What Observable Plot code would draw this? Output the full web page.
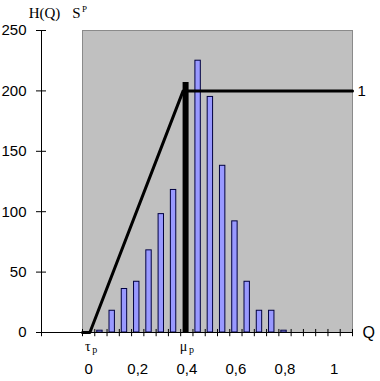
<!DOCTYPE html>
<html>
<head>
<meta charset="utf-8">
<script src="https://cdn.jsdelivr.net/npm/d3@7"></script>
<script src="https://cdn.jsdelivr.net/npm/@observablehq/plot@0.6"></script>
<style>
  html, body { margin: 0; padding: 0; background: #fff; }
  #chart svg { display: block; }
</style>
</head>
<body>
<div id="chart"></div>
<script>
// ---- data ----
const categories = [0, 0.05, 0.10, 0.15, 0.20, 0.25, 0.30, 0.35, 0.40, 0.45, 0.50,
                    0.55, 0.60, 0.65, 0.70, 0.75, 0.80, 0.85, 0.90, 0.95, 1.00, 1.05];
const counts =     [0, 1.5, 18, 36, 42, 68, 98, 118, 0, 225, 195,
                    138, 92, 42, 18, 18, 1.5, 0, 0, 0, 0, 0];
const yTicks = [0, 50, 100, 150, 200, 250];
const xTickValues = [0, 0.2, 0.4, 0.6, 0.8, 1];
const xTickLabels = ["0", "0,2", "0,4", "0,6", "0,8", "1"];
// S^P curve points (Q, value)
const sQ = [-0.025, 0.005, 0.385, 1.075];
const sV = [0, 0, 200, 200];
const tauP = 0.005;     // τp
const muP = 0.395;      // μp
const muHeight = 207;
const sLabel = "1";

// ---- derived tables ----
const bars = categories.map((c, i) => ({q: c, h: counts[i]})).filter(d => d.h > 0);
const sLine = sQ.map((q, i) => ({q, v: sV[i]}));
const xLab = xTickValues.map((v, i) => ({q: v, label: xTickLabels[i]}));
const step = 0.05;
const xMin = categories[0] - step / 2;
const xMax = categories[categories.length - 1] + step / 2;
const boundaries = d3.range(categories.length + 1).map(i => xMin + i * step);
const pxPerQ = 270 / (xMax - xMin);
const axisQ = xMin - 41 / pxPerQ;   // y-axis location left of the plot area
const tickHalf = 5 / pxPerQ;

const sans = "'Liberation Sans', Arial, sans-serif";
const serif = "'Liberation Serif', 'Times New Roman', serif";

const chart = Plot.plot({
  width: 380,
  height: 381,
  marginLeft: 82,
  marginRight: 28,
  marginTop: 30,
  marginBottom: 49,
  x: {domain: [xMin, xMax], axis: null},
  y: {domain: [0, 250], axis: null},
  style: {fontFamily: sans, background: "#fff", overflow: "visible"},
  marks: [
    Plot.frame({fill: "#c0c0c0", stroke: "#8a8a8a"}),
    Plot.rectY(bars, {
      x1: d => d.q - 0.015, x2: d => d.q + 0.007, y: "h",
      fill: "#9999ff", stroke: "#000040", strokeWidth: 1
    }),
    Plot.line(sLine, {x: "q", y: "v", stroke: "black", strokeWidth: 3}),
    Plot.ruleX([muP], {y1: 0, y2: muHeight, stroke: "black", strokeWidth: 6}),
    // x axis line and ticks
    Plot.ruleY([0], {x1: axisQ, x2: xMax, stroke: "black"}),
    Plot.ruleX(boundaries.concat([axisQ]), {y1: 2.5, y2: -3.5, stroke: "black"}),
    // y axis line and ticks
    Plot.ruleX([axisQ], {y1: 0, y2: 250, stroke: "black"}),
    Plot.ruleY(yTicks.filter(d => d > 0), {x1: axisQ - tickHalf, x2: axisQ + tickHalf, stroke: "black"}),
    Plot.ruleY([0], {x1: axisQ - tickHalf, x2: axisQ, stroke: "black"}),
    // y labels
    Plot.text(yTicks, {x: axisQ, y: d => d, text: d => String(d), dx: -15, textAnchor: "end",
      fontSize: 15, fill: "black"}),
    // x labels
    Plot.text(xLab, {x: "q", y: 0, text: "label", dy: 37, fontSize: 15, fill: "black"}),
    // right-side labels
    Plot.text([sLabel], {x: xMax, y: 200, text: d => d, dx: 5, textAnchor: "start", fontSize: 15, fill: "black"}),
    Plot.text(["Q"], {x: xMax, y: 0, text: d => d, dx: 10, textAnchor: "start", fontSize: 16, fill: "black"}),
    // tau_p, mu_p
    Plot.text(["τ"], {x: tauP, y: 0, text: d => d, dx: -2, dy: 14, fontSize: 14, fontFamily: serif, fill: "black"}),
    Plot.text(["p"], {x: tauP, y: 0, text: d => d, dx: 5, dy: 17, fontSize: 10, fontFamily: serif, fill: "black"}),
    Plot.text(["μ"], {x: muP, y: 0, text: d => d, dx: -2, dy: 14, fontSize: 14, fontFamily: serif, fill: "black"}),
    Plot.text(["p"], {x: muP, y: 0, text: d => d, dx: 6, dy: 17, fontSize: 10, fontFamily: serif, fill: "black"}),
    // top labels
    Plot.text(["H(Q)"], {x: axisQ, y: 250, text: d => d, dx: 3, dy: -17, fontSize: 15, fontFamily: serif, fill: "black"}),
    Plot.text(["S"], {x: xMin, y: 250, text: d => d, dx: -6, dy: -17, fontSize: 15, fontFamily: serif, fill: "black"}),
    Plot.text(["P"], {x: xMin, y: 250, text: d => d, dx: 2, dy: -21, fontSize: 9, fontFamily: serif, fill: "black"})
  ]
});
document.getElementById("chart").appendChild(chart);
</script>
</body>
</html>
